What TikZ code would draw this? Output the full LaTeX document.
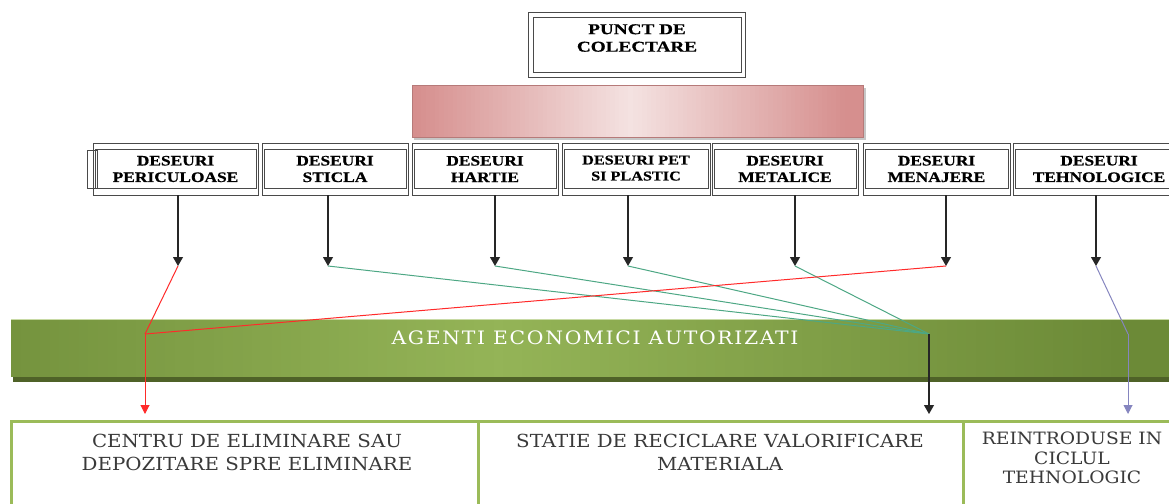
\documentclass[tikz,border=0pt]{standalone}
\usepackage{fontspec}
\setmainfont{Liberation Serif}
\newfontfamily\catfont[FakeStretch=1.2,BoldFeatures={FakeBold=0.6}]{Liberation Serif}
\newfontfamily\topfont[FakeStretch=1.28,BoldFeatures={FakeBold=0.6}]{Liberation Serif}
\newfontfamily\botfont[FakeStretch=1.1]{DejaVu Serif}
\newfontfamily\agfont[FakeStretch=1.1,LetterSpace=9]{DejaVu Serif}
\usetikzlibrary{arrows.meta,calc}
\definecolor{framegray}{HTML}{4A4A4A}
\definecolor{pinkdark}{HTML}{D68F8E}
\definecolor{pinklight}{HTML}{F4E2E1}
\definecolor{greendark}{HTML}{6C8A37}
\definecolor{greenmid}{HTML}{94B457}
\definecolor{greenshadow}{HTML}{4F6228}
\definecolor{greenline}{HTML}{9BBB59}
\definecolor{tealline}{HTML}{4DA784}
\definecolor{redline}{HTML}{FF2A2A}
\definecolor{blueline}{HTML}{8585BF}
\definecolor{textgray}{HTML}{3A3A3A}
\begin{document}
\begin{tikzpicture}[x=1pt,y=-1pt,
  cat/.style={draw=framegray, line width=0.9pt, minimum height=52pt, inner sep=0pt,
    align=center, font=\catfont\bfseries\fontsize{14.5}{16.5}\selectfont},
  inner frame/.style={draw=framegray, line width=0.9pt},
  stem/.style={draw=black!85, line width=1.1pt, -{Triangle[width=10pt,length=9pt]}},
  tealconn/.style={draw=tealline, line width=1pt},
  redconn/.style={draw=redline, line width=1pt},
  blueconn/.style={draw=blueline, line width=1pt},
  botbox/.style={draw=greenline, line width=3pt, fill=white, minimum height=100pt, inner sep=0pt},
  bottext/.style={text=textgray, align=center, inner sep=0pt, font=\botfont\fontsize{18}{23}\selectfont},
]
\useasboundingbox (0,0) rectangle (1169,503);
\clip (0,0) rectangle (1169,503);

% top box
\node[inner sep=0pt, align=center, font=\topfont\bfseries\fontsize{15}{17.5}\selectfont] (pc) at (637,38) {PUNCT DE\\COLECTARE};
\draw[inner frame] (528,12) rectangle (745,77);
\draw[inner frame] (533,17) rectangle (741,72);

% pink bar (gradient drawn in strips)
\fill[black!22] (414,88) rectangle (866,140);
\foreach \i in {0,...,99}{
  \pgfmathsetmacro\xa{412+\i*4.51}
  \pgfmathsetmacro\xb{\xa+4.7}
  \pgfmathsetmacro\w{max(0,100-abs(\i-48)*2.1)}
  \fill[pinklight!\w!pinkdark] (\xa,85) rectangle (\xb,137);
}
\node[minimum width=451pt, minimum height=52pt, inner sep=0pt, draw=pinkdark!85!black, line width=0.4pt] (pb) at (637.5,111) {};

% category boxes
\node[cat, minimum width=165pt] (c1) at (175.5,169) {DESEURI\\PERICULOASE};
\node[cat, minimum width=146pt] (c2) at (335,169) {DESEURI\\STICLA};
\node[cat, minimum width=146pt] (c3) at (485,169) {DESEURI\\HARTIE};
\node[cat, minimum width=148pt, font=\catfont\bfseries\fontsize{13.5}{16}\selectfont] (c4) at (636,169) {\raisebox{2pt}{DESEURI PET}\\\raisebox{2pt}{SI PLASTIC}};
\node[cat, minimum width=146pt] (c5) at (785,169) {DESEURI\\METALICE};
\node[cat, minimum width=147pt] (c6) at (936.5,169) {DESEURI\\MENAJERE};
\node[cat, minimum width=172pt] (c7) at (1099,169) {DESEURI\\TEHNOLOGICE};
\foreach \n in {c1,c2,c3,c4,c5,c6,c7}{
  \draw[inner frame] ([xshift=3pt,yshift=-7pt]\n.north west) rectangle ([xshift=-2pt,yshift=7pt]\n.south east);
}
\draw[inner frame] (87,150) rectangle (97,188);

% arrow tips and junctions
\coordinate (t1) at (178,266);
\coordinate (t2) at (328,266);
\coordinate (t3) at (495,266);
\coordinate (t4) at (628,266);
\coordinate (t5) at (795,266);
\coordinate (t6) at (946,266);
\coordinate (t7) at (1096,266);
\coordinate (jr) at (145,334);
\coordinate (jg) at (929,334);
\coordinate (jb) at (1128,334);
\coordinate (er) at (145,414);
\coordinate (eg) at (929,414);
\coordinate (eb) at (1128,414);

% green bar (gradient drawn in strips)
\fill[greenshadow] (13,377) rectangle (1175,382);
\foreach \i in {0,...,119}{
  \pgfmathsetmacro\xa{11+\i*9.65}
  \pgfmathsetmacro\xb{\xa+9.9}
  \pgfmathsetmacro\w{max(0,100-abs(\i-50)*1.55)}
  \fill[greenmid!\w!greendark] (\xa,319) rectangle (\xb,377);
}
\node[minimum width=1158pt, minimum height=58pt, inner sep=0pt] (ag) at (590,348) {};
\draw[greenline!55!white, line width=0.8pt] (11,319.4) -- (1169,319.4);
\node[text=white, inner sep=0pt, font=\agfont\fontsize{18.5}{20}\selectfont] (agt) at (595,338) {AGENTI ECONOMICI AUTORIZATI};

% stems
\foreach \n/\t in {c1/t1,c2/t2,c3/t3,c4/t4,c5/t5,c6/t6,c7/t7}{
  \draw[stem] (\n.south -| \t) -- (\t);
}

% connectors
\draw[tealconn] (t2) -- (jg);
\draw[tealconn] (t3) -- (jg);
\draw[tealconn] (t4) -- (jg);
\draw[tealconn] (t5) -- (jg);
\draw[redconn] (t1) -- (jr);
\draw[redconn] (t6) -- (jr);
\draw[redconn, -{Triangle[width=9pt,length=9pt]}] (jr) -- (er);
\draw[black!85, line width=1.1pt, -{Triangle[width=10pt,length=9pt]}] (jg) -- (eg);
\draw[blueconn] (t7) -- (jb);
\draw[blueconn, -{Triangle[width=9pt,length=9pt]}] (jb) -- (eb);

% bottom boxes
\node[botbox, minimum width=467pt] (b1) at (244.5,471.5) {};
\node[botbox, minimum width=485pt] (b2) at (720.5,471.5) {};
\node[botbox, minimum width=218pt] (b3) at (1072,471.5) {};
\node[bottext, anchor=north] (b1t) at (247,434) {CENTRU DE ELIMINARE SAU\\DEPOZITARE SPRE ELIMINARE};
\node[bottext, anchor=north] (b2t) at (720,434) {STATIE DE RECICLARE VALORIFICARE\\MATERIALA};
\node[bottext, anchor=north, font=\botfont\fontsize{17}{19.5}\selectfont] (b3t) at (1072,432) {REINTRODUSE IN\\CICLUL\\TEHNOLOGIC};
\end{tikzpicture}
\end{document}
